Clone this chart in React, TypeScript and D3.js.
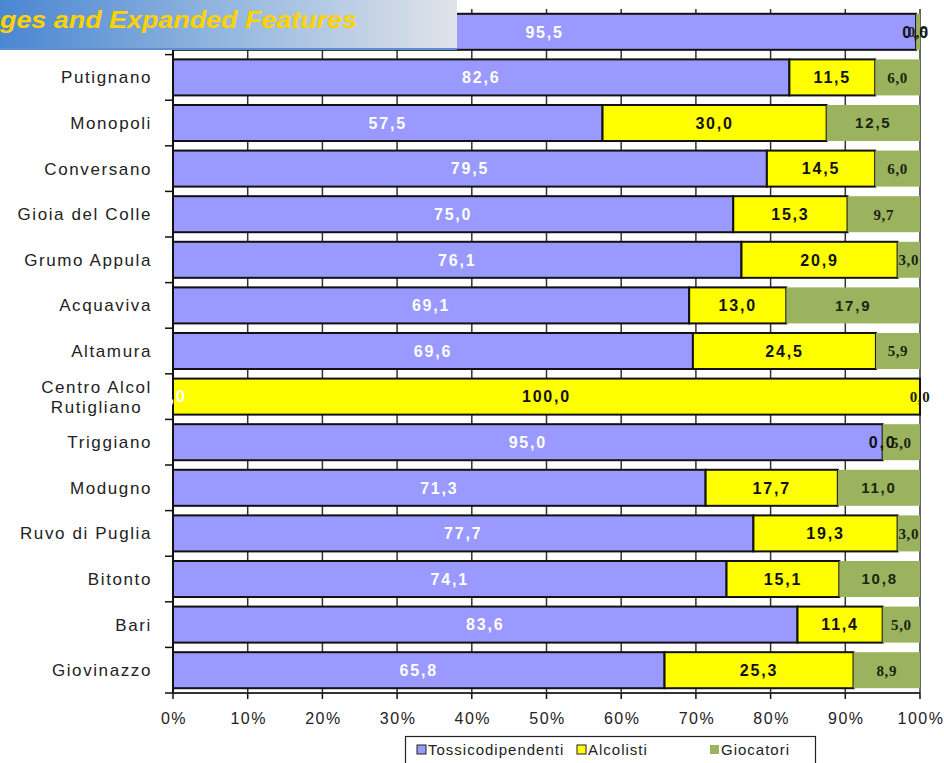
import { useEffect, useRef } from "react";
import * as d3 from "d3";

// Sedi (top one is hidden behind the header banner in the original)
const categories = [
  "Casamassima",
  "Putignano",
  "Monopoli",
  "Conversano",
  "Gioia del Colle",
  "Grumo Appula",
  "Acquaviva",
  "Altamura",
  "Centro Alcol Rutigliano",
  "Triggiano",
  "Modugno",
  "Ruvo di Puglia",
  "Bitonto",
  "Bari",
  "Giovinazzo",
];

const tossicodipendenti = [95.5, 82.6, 57.5, 79.5, 75.0, 76.1, 69.1, 69.6, 0.0, 95.0, 71.3, 77.7, 74.1, 83.6, 65.8];
const alcolisti = [0.0, 11.5, 30.0, 14.5, 15.3, 20.9, 13.0, 24.5, 100.0, 0.0, 17.7, 19.3, 15.1, 11.4, 25.3];
const giocatori = [0.5, 6.0, 12.5, 6.0, 9.7, 3.0, 17.9, 5.9, 0.0, 5.0, 11.0, 3.0, 10.8, 5.0, 8.9];

const seriesNames = ["Tossicodipendenti", "Alcolisti", "Giocatori"];
const seriesColors = ["#9999ff", "#ffff00", "#9bb35e"];
const xTicks = [0, 0.1, 0.2, 0.3, 0.4, 0.5, 0.6, 0.7, 0.8, 0.9, 1];

const FONT = "'Liberation Sans', Arial, sans-serif";

export default function App() {
  const svgRef = useRef<SVGSVGElement>(null);

  useEffect(() => {
    if (!svgRef.current) return;
    const svg = d3.select(svgRef.current);
    svg.selectAll("*").remove();

    const W = 944;
    const H = 763;
    const plot = { left: 173, right: 920, top: 9, bottom: 693 };

    const x = d3.scaleLinear().domain([0, 1]).range([plot.left, plot.right]);
    const y = d3
      .scaleBand<string>()
      .domain(categories)
      .range([plot.top, plot.bottom])
      .paddingInner(0.21)
      .paddingOuter(0.105);

    svg.append("rect").attr("width", W).attr("height", H).attr("fill", "#fff");

    // 100% stacked
    const rows = categories.map((c, i) => {
      const vals = [tossicodipendenti[i], alcolisti[i], giocatori[i]];
      const tot = d3.sum(vals);
      let acc = 0;
      const segs = vals.map((v, s) => {
        const x0 = acc / tot;
        acc += v;
        return { cat: c, s, v, x0, x1: acc / tot };
      });
      return segs;
    });

    // gridlines
    svg
      .append("g")
      .selectAll("line")
      .data(xTicks)
      .enter()
      .append("line")
      .attr("x1", (d) => x(d))
      .attr("x2", (d) => x(d))
      .attr("y1", plot.top)
      .attr("y2", plot.bottom)
      .attr("stroke", "#333")
      .attr("stroke-width", 1.5);

    const bars = svg.append("g");
    rows.forEach((segs) => {
      segs.forEach((d) => {
        if (d.x1 - d.x0 <= 0) return;
        bars
          .append("rect")
          .attr("x", x(d.x0))
          .attr("y", y(d.cat)!)
          .attr("width", x(d.x1) - x(d.x0))
          .attr("height", y.bandwidth())
          .attr("fill", seriesColors[d.s])
          .attr("stroke", d.s === 2 ? "none" : "#111")
          .attr("stroke-width", 2);
      });
    });

    // axes
    svg
      .append("line")
      .attr("x1", plot.left)
      .attr("x2", plot.left)
      .attr("y1", plot.top)
      .attr("y2", plot.bottom)
      .attr("stroke", "#111")
      .attr("stroke-width", 2);
    svg
      .append("line")
      .attr("x1", plot.left)
      .attr("x2", plot.right)
      .attr("y1", plot.bottom)
      .attr("y2", plot.bottom)
      .attr("stroke", "#333")
      .attr("stroke-width", 2);

    const bounds = categories.map((c) => y(c)! - (y.step() - y.bandwidth()) / 2);
    bounds.push(plot.bottom);
    svg
      .append("g")
      .selectAll("line")
      .data(bounds)
      .enter()
      .append("line")
      .attr("x1", plot.left - 8)
      .attr("x2", plot.left)
      .attr("y1", (d) => d)
      .attr("y2", (d) => d)
      .attr("stroke", "#111")
      .attr("stroke-width", 1.5);

    svg
      .append("g")
      .selectAll("line")
      .data(xTicks)
      .enter()
      .append("line")
      .attr("x1", (d) => x(d))
      .attr("x2", (d) => x(d))
      .attr("y1", plot.bottom)
      .attr("y2", plot.bottom + 6)
      .attr("stroke", "#111")
      .attr("stroke-width", 1.5);

    svg
      .append("g")
      .selectAll("text")
      .data(xTicks)
      .enter()
      .append("text")
      .attr("x", (d) => x(d) + 1)
      .attr("y", 718)
      .attr("dy", "0.35em")
      .attr("text-anchor", "middle")
      .style("font-family", FONT)
      .style("font-size", "16px")
      .style("letter-spacing", "1.5px")
      .style("fill", "#222")
      .text((d) => `${Math.round(d * 100)}%`);

    // category labels
    const catG = svg.append("g");
    categories.forEach((c) => {
      const cy = y(c)! + y.bandwidth() / 2;
      const lines = c === "Centro Alcol Rutigliano" ? ["Centro Alcol", "Rutigliano"] : [c];
      const t = catG
        .append("text")
        .style("font-family", FONT)
        .style("font-size", "17px")
        .style("letter-spacing", "1.6px")
        .style("fill", "#222");
      lines.forEach((ln, j) => {
        t.append("tspan")
          .attr("y", cy + (j - (lines.length - 1) / 2) * 20)
          .attr("dy", "0.35em")
          .text(ln);
      });
      // right edge at ~150, multi-line centred on the widest line
      const tspans = t.selectAll<SVGTSpanElement, unknown>("tspan").nodes();
      const widths = tspans.map((n) => n.getComputedTextLength());
      const maxW = d3.max(widths) || 0;
      tspans.forEach((n, j) => {
        d3.select(n).attr("x", 152 - maxW + (maxW - widths[j]) / 2);
      });
    });

    // value labels
    const labG = svg.append("g");
    rows.forEach((segs) => {
      segs.forEach((d) => {
        const cx = (x(d.x0) + x(d.x1)) / 2;
        const cy = y(d.cat)! + y.bandwidth() / 2;
        const serif = d.s === 2 && d.v < 10;
        labG
          .append("text")
          .attr("x", cx)
          .attr("y", cy)
          .attr("dy", "0.36em")
          .attr("text-anchor", "middle")
          .style("font-family", serif ? "'Liberation Serif', serif" : FONT)
          .style("font-weight", "bold")
          .style("font-size", d.s === 2 ? (serif ? "15px" : "15px") : "16px")
          .style("letter-spacing", serif ? "0.6px" : "1.8px")
          .style("fill", d.s === 0 ? "#fff" : d.s === 1 ? "#111" : "#1c2410")
          .text(d3.format(".1f")(d.v).replace(".", ","));
      });
    });

    // legend
    const leg = svg.append("g");
    leg
      .append("rect")
      .attr("x", 405.5)
      .attr("y", 736.5)
      .attr("width", 410)
      .attr("height", 30)
      .attr("fill", "#fff")
      .attr("stroke", "#222")
      .attr("stroke-width", 1.2);
    const legX = [417, 577, 710];
    seriesNames.forEach((name, i) => {
      leg
        .append("rect")
        .attr("x", legX[i])
        .attr("y", 745)
        .attr("width", 9)
        .attr("height", 9)
        .attr("fill", seriesColors[i])
        .attr("stroke", i === 2 ? "none" : "#222")
        .attr("stroke-width", 1);
      leg
        .append("text")
        .attr("x", legX[i] + 11)
        .attr("y", 750)
        .attr("dy", "0.35em")
        .style("font-family", FONT)
        .style("font-size", "15px")
        .style("letter-spacing", "1px")
        .style("fill", "#222")
        .text(name);
    });

    // header banner overlapping the chart
    const defs = svg.append("defs");
    const grad = defs
      .append("linearGradient")
      .attr("id", "bannerGrad")
      .attr("x1", "0")
      .attr("x2", "1")
      .attr("y1", "0")
      .attr("y2", "0");
    grad.append("stop").attr("offset", "0").attr("stop-color", "#4a86d2");
    grad.append("stop").attr("offset", "0.5").attr("stop-color", "#95b8df");
    grad.append("stop").attr("offset", "1").attr("stop-color", "#e0e3e9");
    svg
      .append("rect")
      .attr("x", 0)
      .attr("y", 0)
      .attr("width", 457)
      .attr("height", 50)
      .attr("fill", "url(#bannerGrad)");
    svg
      .append("line")
      .attr("x1", 0)
      .attr("x2", 457)
      .attr("y1", 49)
      .attr("y2", 49)
      .attr("stroke", "#5b8fd2")
      .attr("stroke-width", 2);
    svg
      .append("text")
      .attr("x", 0)
      .attr("y", 28)
      .attr("textLength", 357)
      .attr("lengthAdjust", "spacingAndGlyphs")
      .style("font-family", FONT)
      .style("font-weight", "bold")
      .style("font-style", "italic")
      .style("font-size", "24px")
      .style("fill", "#ffd200")
      .text("ges and Expanded Features");
  }, []);

  return (
    <div style={{ position: "absolute", left: 0, top: 0 }}>
      <svg ref={svgRef} width={944} height={763} style={{ display: "block" }} />
    </div>
  );
}
